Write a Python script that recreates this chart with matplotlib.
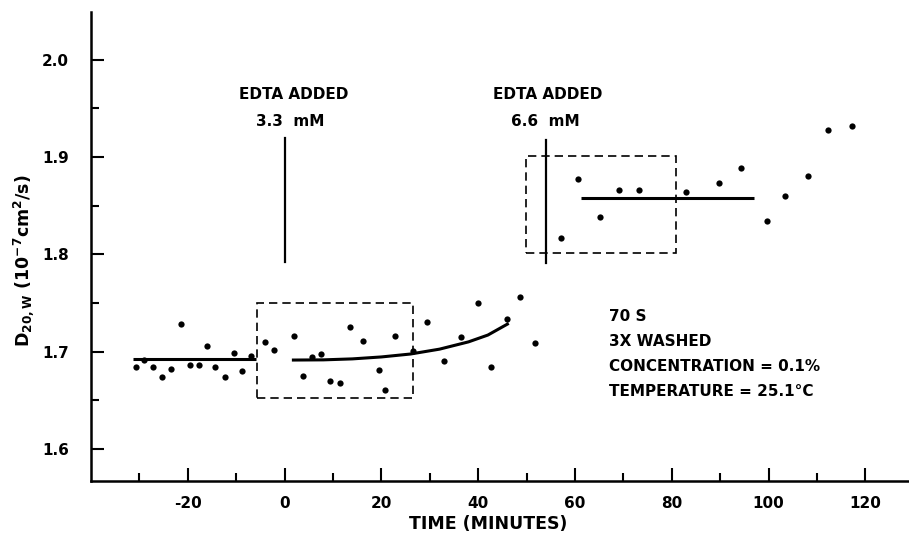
import matplotlib
matplotlib.use('Agg')
import matplotlib.pyplot as plt
from matplotlib.patches import Rectangle

plt.rcParams['font.family'] = ['DejaVu Sans']
plt.rcParams['font.weight'] = 'bold'
plt.rcParams['mathtext.fontset'] = 'dejavusans'
plt.rcParams['axes.unicode_minus'] = False

# measured points (time in minutes, D20,w in 1e-7 cm^2/s)
time_min = [-30.8, -29.1, -27.2, -25.3, -23.5, -21.4, -19.6, -17.6, -16.0, -14.4,
            -12.4, -10.5, -8.7, -7.0, -4.1, -2.2, 2.0, 3.8, 5.6, 7.5,
            9.3, 11.5, 13.5, 16.1, 19.4, 20.8, 22.8, 26.5, 29.5, 32.9,
            36.4, 39.9, 42.7, 45.9, 48.6, 51.7, 57.2, 60.7, 65.1, 69.0,
            73.2, 83.0, 89.7, 94.2, 99.6, 103.3, 108.2, 112.3, 117.2]
d20w = [1.684, 1.691, 1.684, 1.674, 1.682, 1.728, 1.686, 1.686, 1.706, 1.684,
        1.674, 1.699, 1.680, 1.695, 1.710, 1.702, 1.716, 1.675, 1.694, 1.698,
        1.670, 1.668, 1.725, 1.711, 1.681, 1.661, 1.716, 1.701, 1.730, 1.690,
        1.715, 1.750, 1.684, 1.734, 1.756, 1.709, 1.817, 1.877, 1.838, 1.866,
        1.866, 1.864, 1.873, 1.889, 1.834, 1.860, 1.880, 1.928, 1.932]

# drawn trend lines
base_x = [-31.3, -5.9]
base_y = [1.6926, 1.6926]
rise_x = [1.5, 8, 14, 20, 26, 32, 38, 42, 46.3]
rise_y = [1.6913, 1.6915, 1.6925, 1.6945, 1.6975, 1.7025, 1.710, 1.717, 1.729]
high_x = [61.3, 97.0]
high_y = [1.8583, 1.8583]

# EDTA additions: time, marker line span, labels
edta_t = [0, 54.0]
edta_lo = [1.792, 1.791]
edta_hi = [1.920, 1.917]
edta_conc = ['3.3  mM', '6.6  mM']
edta_label_x = [1.8, 54.4]

# dashed boxes: (x0, x1, y0, y1)
boxes = [(-5.7, 26.5, 1.652, 1.750), (49.9, 80.8, 1.801, 1.901)]

notes = ['70 S', '3X WASHED', 'CONCENTRATION = 0.1%', 'TEMPERATURE = 25.1\u00b0C']

fig = plt.figure(figsize=(9.09, 5.38), dpi=100)
ax = fig.add_axes([91 / 909, 57 / 538, 818 / 909, 469 / 538])

ax.plot(time_min, d20w, 'o', color='black', ms=4.5, mew=0)
ax.plot(base_x, base_y, color='black', lw=2.2, solid_capstyle='butt')
ax.plot(rise_x, rise_y, color='black', lw=2.2, solid_capstyle='butt')
ax.plot(high_x, high_y, color='black', lw=2.2, solid_capstyle='butt')

for t, lo, hi, conc, lx in zip(edta_t, edta_lo, edta_hi, edta_conc, edta_label_x):
    ax.plot([t, t], [lo, hi], color='black', lw=1.6)
    ax.text(lx, 1.964, 'EDTA ADDED', ha='center', va='center', fontsize=11, fontweight='bold')
    ax.text(lx - 0.6, 1.936, conc, ha='center', va='center', fontsize=11, fontweight='bold')

for x0, x1, y0, y1 in boxes:
    ax.add_patch(Rectangle((x0, y0), x1 - x0, y1 - y0, fill=False, ec='black',
                           lw=1.2, ls=(0, (5, 3))))

for i, s in enumerate(notes):
    ax.text(67.0, 1.736 - i * 0.0258, s, ha='left', va='center', fontsize=11, fontweight='bold')

ax.set_xlim(-40, 129)
ax.set_ylim(1.567, 2.049)
ax.set_xticks([-20, 0, 20, 40, 60, 80, 100, 120])
ax.set_xticks([-30, -10, 10, 30, 50, 70, 90, 110], minor=True)
ax.set_yticks([1.6, 1.7, 1.8, 1.9, 2.0])
ax.set_yticks([1.65, 1.75, 1.85, 1.95], minor=True)
ax.set_yticklabels(['1.6', '1.7', '1.8', '1.9', '2.0'])
ax.tick_params(which='both', direction='in', width=1.5, labelsize=11)
ax.tick_params(which='major', length=9.5)
ax.tick_params(which='minor', length=6)
ax.tick_params(axis='y', pad=16)
ax.tick_params(axis='x', pad=11)
for lab in ax.get_xticklabels() + ax.get_yticklabels():
    lab.set_fontweight('bold')

ax.spines['top'].set_visible(False)
ax.spines['right'].set_visible(False)
ax.spines['left'].set_linewidth(1.8)
ax.spines['bottom'].set_linewidth(1.8)

ax.set_xlabel('TIME (MINUTES)', fontsize=12.5, fontweight='bold', va='center')
ax.xaxis.set_label_coords((488 - 91) / 818, (481 - 524) / 469)
ax.set_ylabel(r'D$_{\mathbf{20,W}}$ (10$^{\mathbf{-7}}$cm$^{\mathbf{2}}$/s)',
              fontsize=12.5, fontweight='bold', va='center')
ax.yaxis.set_label_coords((24 - 91) / 818, 0.47)

fig.savefig('out.png', dpi=100)
